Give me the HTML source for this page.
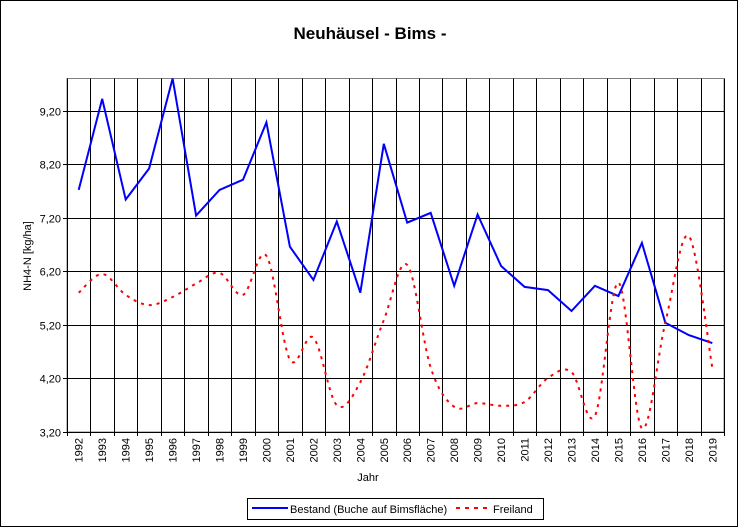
<!DOCTYPE html>
<html><head><meta charset="utf-8"><style>
html,body{margin:0;padding:0;background:#fff}
svg{display:block;font-family:"Liberation Sans",Arial,sans-serif}
</style></head><body>
<svg id="chart" width="739" height="528" viewBox="0 0 739 528">
<rect x="0.5" y="0.5" width="737" height="526" fill="#fff" stroke="#000"/>
<text x="370" y="39" text-anchor="middle" font-size="17" font-weight="bold">Neuhäusel - Bims -</text>
<g id="grid"></g>
<g id="series"></g>
<text x="0" y="0" transform="translate(31,256) rotate(-90)" text-anchor="middle" font-size="11">NH4-N [kg/ha]</text>
<text x="368" y="481" text-anchor="middle" font-size="11">Jahr</text>
<g>
<rect x="247.5" y="498.5" width="296" height="21" fill="#fff" stroke="#000"/>
<line x1="252" y1="508" x2="288" y2="508" stroke="#0000ff" stroke-width="2"/>
<text x="290" y="513" font-size="11">Bestand (Buche auf Bimsfläche)</text>
<line x1="456" y1="508" x2="492" y2="508" stroke="#ff0000" stroke-width="2" stroke-dasharray="4,5"/>
<text x="493" y="513" font-size="11">Freiland</text>
</g>
</svg>
<script>
const years = [1992,1993,1994,1995,1996,1997,1998,1999,2000,2001,2002,2003,2004,2005,2006,2007,2008,2009,2010,2011,2012,2013,2014,2015,2016,2017,2018,2019];
const bestand = [7.72,9.42,7.54,8.12,9.8,7.24,7.72,7.91,8.98,6.66,6.04,7.13,5.80,8.58,7.11,7.29,5.93,7.26,6.30,5.91,5.85,5.46,5.93,5.74,6.73,5.24,5.01,4.86];
const freiland = [5.80,6.15,5.76,5.57,5.72,5.97,6.17,5.76,6.49,4.55,4.96,3.70,4.13,5.29,6.32,4.40,3.67,3.74,3.69,3.76,4.21,4.32,3.50,5.99,3.27,5.24,6.86,4.40];
const yTicks = [3.2,4.2,5.2,6.2,7.2,8.2,9.2];
const yTickLabels = ["3,20","4,20","5,20","6,20","7,20","8,20","9,20"];
const yMin = 3.2, yMax = 9.8;

const L=67, R=724, T=78.5, B=432;
const NS="http://www.w3.org/2000/svg";
const bw=(R-L)/years.length;
function xPos(i){return L+bw*(i+0.5);}
function yPos(v){return B-(v-yMin)/(yMax-yMin)*(B-T);}
const grid=document.getElementById('grid');
const series=document.getElementById('series');
function mk(tag,attrs,parent){const e=document.createElementNS(NS,tag);for(const k in attrs)e.setAttribute(k,attrs[k]);parent.appendChild(e);return e;}

// plot frame
const frame=mk('rect',{x:L,y:T,width:R-L,height:B-T,fill:'none',stroke:'#808080','stroke-width':1},grid);


// horizontal grid + y ticks
yTicks.forEach((v,i)=>{
  const y=Math.round(yPos(v))+0.5;
  const g=mk('line',{x1:L-4,y1:y,x2:R,y2:y,stroke:'#000','stroke-width':1},grid);
  
  
  const t=mk('text',{x:L-6,y:y+4,'text-anchor':'end','font-size':11},grid);
  
  
  t.textContent=yTickLabels[i];
});
// vertical grid + x labels
for(let i=0;i<=years.length;i++){
  const x=Math.round(L+bw*i)+0.5;
  const g=mk('line',{x1:x,y1:T,x2:x,y2:B+4,stroke:'#000','stroke-width':1},grid);
  
  
}
mk('line',{x1:L+0.5,y1:T,x2:L+0.5,y2:B,stroke:'#000'},grid);
years.forEach((yr,i)=>{
  const x=xPos(i);
  const t=mk('text',{x:0,y:0,transform:`translate(${x+4},438) rotate(-90)`,'text-anchor':'end','font-size':11},grid);
  
  
  t.textContent=yr;
});
// bestand line
const bp=bestand.map((v,i)=>`${i?'L':'M'}${xPos(i).toFixed(1)},${yPos(v).toFixed(1)}`).join(' ');
const bl=mk('path',{d:bp,fill:'none',stroke:'#0000ff','stroke-width':2,'stroke-linejoin':'miter'},series);


// freiland smoothed
const pts=freiland.map((v,i)=>[xPos(i),yPos(v)]);
let d=`M${pts[0][0].toFixed(1)},${pts[0][1].toFixed(1)}`;
for(let i=0;i<pts.length-1;i++){
  const p0=pts[Math.max(0,i-1)],p1=pts[i],p2=pts[i+1],p3=pts[Math.min(pts.length-1,i+2)];
  const c1=[p1[0]+(p2[0]-p0[0])/6,p1[1]+(p2[1]-p0[1])/6];
  const c2=[p2[0]-(p3[0]-p1[0])/6,p2[1]-(p3[1]-p1[1])/6];
  d+=` C${c1[0].toFixed(1)},${c1[1].toFixed(1)} ${c2[0].toFixed(1)},${c2[1].toFixed(1)} ${p2[0].toFixed(1)},${p2[1].toFixed(1)}`;
}
const fl=mk('path',{d:d,fill:'none',stroke:'#ff0000','stroke-width':2,'stroke-dasharray':'3,5'},series);


</script>
</body></html>
